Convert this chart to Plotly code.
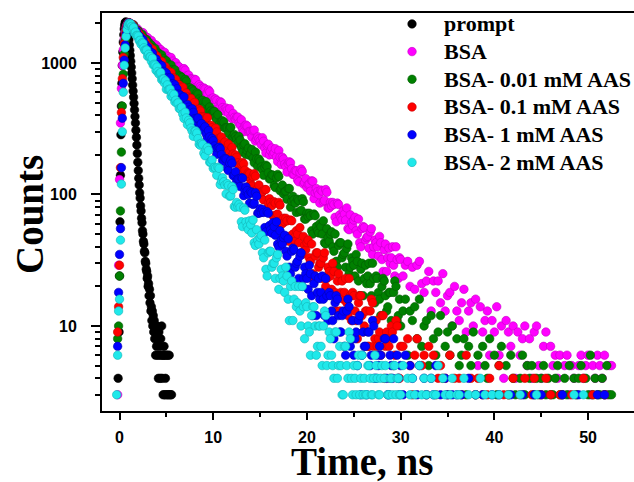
import numpy as np
import plotly.graph_objects as go

# Channel times of the decay histograms: 0.1 ns channels around the excitation
# pulse, 0.125 ns through the main decay and 0.25 ns for the long tail.
time_fine_ns = np.round(np.arange(-0.3, 6.0001, 0.1), 3)
time_mid_ns = np.round(np.arange(6.125, 30.0001, 0.125), 3)
time_tail_ns = np.round(np.arange(30.25, 52.5001, 0.25), 3)
time_ns = np.concatenate([time_fine_ns, time_mid_ns, time_tail_ns])

# The instrument response is recorded with 0.05 ns channels
prompt_time_ns = np.round(np.arange(-0.3, 6.0001, 0.05), 3)
prompt_counts = [
    1, 1, 2, 4, 2, 9, 24, 62, 140, 285,
    470, 700, 955, 1210, 1440, 1640, 1810, 1930, 2010, 2050,
    2040, 2000, 1950, 1860, 1750, 1630, 1500, 1375, 1250, 1140,
    1030, 930, 840, 760, 680, 612, 550, 492, 440, 392,
    350, 308, 272, 238, 205, 176, 152, 133, 118, 103,
    94, 82, 75, 66, 61, 53, 50, 44, 42, 37,
    36, 31, 30, 27, 26, 23, 24, 20, 21, 17,
    19, 15, 17, 13, 14, 11, 13, 10, 12, 9,
    11, 8, 10, 6, 9, 7, 10, 6, 8, 4,
    9, 6, 7, 4, 8, 6, 10, 4, 6, 3,
    6, 7, 3, 6, 4, 3, 6, 2, 3, 6,
    3, 2, 6, 3, 2, 3, 1, 3, 2, 1,
    2, 1, 2, 1, 1, 1, 1,
]

bsa_counts = [
    # 0.1 ns channels
    1, 3, 29, 130, 350, 640, 960, 1260, 1520, 1720, 1860, 1950, 2000, 2030, 2010,
    1984, 1889, 1948, 1950, 1840, 1791, 1807, 1823, 1684, 1747, 1692, 1712, 1623, 1700, 1563,
    1587, 1580, 1478, 1558, 1478, 1437, 1460, 1484, 1359, 1383, 1388, 1324, 1370, 1238, 1316,
    1244, 1254, 1263, 1166, 1210, 1172, 1206, 1111, 1134, 1058, 1118, 1079, 1047, 1099, 990,
    1033, 977, 996, 1004,
    # 0.125 ns channels
    930, 944, 933, 865, 846, 892, 906, 881, 796, 796, 809, 753, 758, 753, 709, 752, 744, 654, 670, 684,
    662, 642, 600, 646, 634, 584, 583, 622, 604, 534, 529, 543, 526, 532, 518, 469, 453, 508, 499, 458,
    442, 430, 454, 439, 415, 449, 386, 379, 413, 386, 373, 386, 388, 349, 337, 370, 311, 300, 334, 337,
    331, 299, 302, 301, 274, 305, 309, 255, 264, 275, 265, 256, 239, 270, 254, 225, 207, 236, 241, 200,
    215, 226, 201, 208, 223, 193, 178, 216, 192, 169, 192, 186, 170, 163, 148, 171, 177, 174, 157, 142,
    142, 152, 151, 129, 125, 147, 156, 150, 120, 123, 132, 113, 119, 120, 106, 127, 126, 93, 103, 111,
    105, 100, 86, 108, 106, 88, 90, 109, 104, 79, 79, 87, 82, 87, 84, 67, 62, 86, 84, 70,
    67, 64, 75, 71, 64, 79, 55, 54, 70, 61, 58, 64, 67, 53, 50, 65, 43, 40, 55, 57,
    56, 45, 47, 48, 39, 52, 55, 35, 40, 45, 43, 40, 34, 48, 43, 32, 26, 38, 42, 26,
    33, 39, 30, 33, 40, 29, 24, 40, 32, 23, 33, 32,
    # 0.25 ns channels
    24, 29, 31, 20, 28, 19, 29, 31, 21, 18, 22, 26, 13, 22, 18, 22, 15, 25, 13, 17,
    18, 10, 20, 13, 11, 15, 19, 9, 13, 15, 10, 16, 5, 14, 9, 11, 13, 6, 11, 9,
    14, 6, 10, 4, 11, 9, 7, 10, 4, 9, 6, 8, 10, 5, 8, 4, 9, 10, 5, 4,
    7, 9, 2, 7, 5, 6, 4, 6, 3, 5, 6, 3, 5, 4, 3, 5, 6, 4, 5, 6,
    3, 5, 4, 6, 5, 4, 6, 3, 5, 5,
]

aas_001_counts = [
    2, 8, 10, 24, 75, 210, 470, 820, 1170, 1480, 1720, 1880, 1970, 2020, 2000,
    1956, 1970, 1867, 1941, 1788, 1807, 1792, 1678, 1756, 1664, 1614, 1631, 1653, 1518, 1534,
    1534, 1461, 1504, 1361, 1438, 1357, 1362, 1368, 1258, 1303, 1259, 1289, 1188, 1207, 1125,
    1182, 1138, 1102, 1151, 1037, 1077, 1016, 1033, 1038, 954, 977, 914, 958, 963, 890,
    857, 873, 887, 794,
    824, 797, 746, 793, 776, 716, 711, 751, 727, 647, 637, 649, 627, 631, 612, 555, 535, 592, 579, 532,
    513, 498, 521, 503, 474, 507, 438, 429, 463, 432, 416, 427, 428, 386, 371, 404, 341, 328, 362, 363,
    355, 320, 322, 321, 291, 320, 324, 268, 276, 286, 275, 264, 246, 276, 259, 229, 210, 238, 243, 201,
    215, 225, 199, 205, 220, 189, 174, 210, 187, 163, 186, 179, 162, 155, 140, 161, 167, 163, 146, 131,
    132, 141, 140, 117, 113, 134, 142, 137, 107, 111, 118, 101, 105, 106, 92, 111, 111, 80, 89, 97,
    91, 86, 73, 92, 90, 74, 76, 93, 88, 65, 65, 72, 68, 72, 69, 53, 50, 71, 69, 57,
    53, 51, 60, 57, 50, 63, 43, 42, 55, 47, 44, 50, 52, 40, 37, 50, 31, 28, 41, 43,
    43, 33, 35, 36, 28, 39, 42, 25, 28, 33, 31, 29, 24, 35, 31, 22, 17, 27, 30, 17,
    23, 29, 21, 24, 30, 21, 17, 30, 23, 15, 24, 23, 18, 16, 12, 20, 23, 22, 17, 13,
    14, 18, 18, 11, 10, 18, 22, 20, 11, 12, 16, 10,
    13, 16, 6, 13, 11, 14, 8, 16, 7, 10, 11, 5, 12, 8, 6, 9, 12, 4, 7, 9,
    6, 10, 2, 8, 5, 6, 8, 3, 7, 5, 9, 3, 6, 2, 7, 5, 4, 8, 2, 6,
    3, 5, 7, 2, 5, 3, 6, 4, 3, 2, 4, 6, 3, 5, 4, 5, 3, 4, 3, 4,
    5, 3, 4, 3, 3, 4, 5, 3, 3, 4, 3, 5, 2, 4, 3, 4, 5, 2, 4, 3,
    6, 3, 4, 3, 3, 4, 3, 5, 3, 3,
]

aas_01_counts = [
    1, 9, 14, 29, 160, 420, 760, 1100, 1400, 1630, 1800, 1910, 1975, 2015, 2000,
    1924, 1936, 1947, 1792, 1801, 1793, 1706, 1744, 1583, 1658, 1564, 1563, 1562, 1442, 1480,
    1426, 1453, 1339, 1354, 1261, 1317, 1265, 1221, 1269, 1144, 1180, 1112, 1126, 1126, 1034,
    1055, 985, 1027, 1028, 949, 913, 925, 936, 836, 881, 842, 856, 793, 847, 752,
    770, 764, 694, 749,
    682, 659, 681, 656, 619, 653, 570, 554, 590, 552, 531, 540, 537, 486, 466, 500, 428, 410, 444, 444,
    432, 391, 391, 387, 352, 382, 384, 321, 327, 336, 322, 308, 286, 319, 299, 265, 242, 270, 274, 228,
    242, 251, 224, 229, 242, 209, 192, 228, 203, 177, 200, 192, 174, 166, 149, 171, 175, 171, 153, 137,
    137, 146, 144, 121, 116, 137, 144, 138, 108, 111, 118, 100, 104, 105, 91, 109, 109, 78, 86, 93,
    87, 82, 69, 88, 86, 70, 71, 87, 83, 60, 60, 66, 62, 66, 63, 48, 44, 64, 63, 50,
    47, 44, 53, 50, 43, 56, 36, 35, 48, 41, 38, 43, 45, 33, 31, 42, 25, 22, 34, 36,
    36, 28, 30, 30, 23, 33, 36, 20, 23, 28, 26, 24, 19, 30, 26, 18, 13, 22, 25, 13,
    18, 22, 16, 18, 23, 15, 12, 23, 17, 11, 18, 17, 13, 11, 8, 15, 17, 17, 12, 9,
    10, 13, 13, 7, 7, 13, 16, 15, 7, 8, 11, 7, 8, 9, 6, 12, 12, 4, 7, 9,
    8, 7, 4, 10, 9, 5, 6, 11, 10, 4, 4, 7,
    7, 2, 8, 5, 3, 6, 8, 2, 5, 6, 3, 7, 1, 6, 3, 4, 5, 1, 4, 3,
    6, 2, 4, 1, 4, 3, 2, 6, 1, 4, 2, 3, 4, 1, 3, 1, 3, 4, 2, 1,
    2, 5, 1, 3, 2, 3, 1, 4, 1, 2, 3, 1, 4, 2, 1, 3, 4, 1, 2, 3,
    1, 4, 1, 3, 2, 1, 2, 3, 1, 2, 2, 1, 3, 2, 1, 2, 2, 4, 1, 2,
    2, 3, 1, 2, 2, 1, 3, 2, 1, 2,
]

aas_1_counts = [
    2, 7, 18, 35, 55, 160, 380, 700, 1050, 1370, 1640, 1830, 1950, 2010, 1995,
    1927, 1917, 1907, 1766, 1799, 1733, 1755, 1620, 1631, 1521, 1576, 1513, 1459, 1505, 1361,
    1395, 1315, 1324, 1319, 1215, 1231, 1152, 1192, 1189, 1099, 1056, 1064, 1071, 961, 1005,
    960, 971, 900, 954, 849, 865, 856, 779, 834, 774, 741, 757, 771, 682, 695,
    697, 650, 681, 588,
    636, 581, 577, 567, 520, 553, 551, 471, 474, 482, 461, 442, 412, 448, 421, 377, 349, 379, 381, 323,
    337, 346, 310, 314, 327, 288, 266, 306, 275, 243, 267, 256, 234, 222, 202, 226, 229, 223, 201, 181,
    179, 188, 186, 158, 152, 174, 182, 173, 139, 141, 149, 127, 131, 131, 115, 134, 133, 98, 107, 114,
    107, 100, 86, 105, 103, 84, 86, 103, 97, 72, 72, 78, 73, 77, 73, 56, 52, 74, 72, 58,
    54, 51, 61, 57, 49, 62, 42, 40, 53, 45, 42, 47, 49, 37, 34, 46, 28, 25, 37, 39,
    38, 28, 30, 31, 23, 34, 36, 20, 23, 28, 25, 23, 19, 29, 25, 17, 12, 21, 24, 12,
    18, 23, 16, 18, 24, 16, 12, 23, 17, 11, 18, 17, 13, 11, 8, 15, 17, 16, 12, 9,
    9, 12, 13, 7, 6, 13, 16, 14, 7, 8, 11, 6, 8, 9, 5, 11, 12, 3, 6, 9,
    7, 7, 3, 9, 9, 5, 6, 11, 10, 4, 4, 6, 5, 7, 6, 2, 1, 8, 8, 4,
    3, 3, 6, 5, 4, 8, 2, 2, 6, 4, 3, 5,
    3, 6, 1, 5, 4, 2, 3, 5, 2, 4, 3, 2, 4, 3, 5, 2, 3, 2, 4, 3,
    2, 3, 1, 3, 2, 3, 1, 2, 4, 2, 1, 3, 2, 2, 3, 1, 2, 2, 3, 1,
    2, 3, 2, 1, 2, 1, 3, 2, 2, 1, 2, 3, 1, 2, 2, 1, 3, 2, 1, 3,
    2, 1, 2, 2, 1, 2, 2, 1, 3, 2, 1, 2, 2, 1, 2, 3, 1, 2, 1, 2,
    2, 1, 2, 3, 1, 2, 3, 2, 1, 2,
]

aas_2_counts = [
    3, 6, 13, 16, 45, 120, 300, 600, 960, 1300, 1590, 1800, 1940, 2000, 1990,
    1980, 1896, 1823, 1862, 1691, 1718, 1619, 1618, 1601, 1476, 1486, 1388, 1424, 1411, 1304,
    1251, 1252, 1251, 1125, 1165, 1109, 1116, 1033, 1085, 967, 978, 963, 877, 930, 861,
    823, 834, 845, 747, 757, 755, 703, 731, 631, 682, 626, 629, 632, 558, 586,
    556, 576, 507, 521,
    492, 497, 450, 449, 461, 409, 379, 422, 382, 340, 366, 350, 320, 304, 277, 302, 304, 293, 266, 241,
    237, 245, 240, 206, 197, 221, 228, 216, 176, 176, 183, 158, 161, 159, 140, 161, 158, 119, 127, 134,
    125, 118, 101, 121, 117, 97, 98, 115, 109, 81, 80, 87, 81, 84, 80, 62, 57, 79, 76, 62,
    57, 54, 63, 59, 51, 64, 43, 41, 54, 45, 42, 47, 49, 36, 33, 45, 27, 24, 36, 37,
    37, 28, 30, 30, 23, 33, 35, 19, 23, 27, 24, 22, 18, 28, 24, 16, 11, 20, 22, 11,
    16, 20, 14, 15, 20, 13, 10, 20, 14, 8, 15, 14, 10, 9, 6, 12, 14, 14, 10, 6,
    7, 10, 10, 7, 5, 10, 13, 12, 5, 6, 9, 8, 6, 5, 4, 9, 9, 4, 5, 7,
    5, 3, 3, 7, 7, 5, 4, 9, 8, 4, 3, 5, 4, 3, 5, 6, 3, 4, 6, 3,
    4, 3, 3, 5, 5, 4, 3, 3, 4, 6, 5, 4, 3, 3, 4, 5, 2, 4, 5, 2,
    3, 3, 4, 4, 3, 5, 5, 3, 4, 4, 3, 3,
    5, 2, 4, 3, 4, 3, 2, 5, 3, 4, 3, 2, 4, 3, 3, 5, 2, 4, 3, 2,
    3, 4, 2, 3, 3, 2, 4, 2, 3, 2, 1, 3, 2, 4, 2, 3, 1, 2, 3, 2,
    2, 3, 1, 2, 2, 3, 1, 2, 2, 1, 3, 2, 1, 2, 2, 1, 2, 3, 1, 2,
    1, 2, 2, 1, 2, 1, 2, 2, 1, 2, 1, 2, 2, 3, 1, 2, 2, 3, 2, 2,
    1, 2, 1, 2, 1, 2, 2, 1, 2, 1,
]

series_names = ["prompt", "BSA", "BSA- 0.01 mM AAS", "BSA- 0.1 mM AAS",
                "BSA- 1 mM AAS", "BSA- 2 mM AAS"]
series_times = [prompt_time_ns, time_ns, time_ns, time_ns, time_ns, time_ns]
series_counts = [prompt_counts, bsa_counts, aas_001_counts, aas_01_counts,
                 aas_1_counts, aas_2_counts]
series_colors = ["#000000", "#ff00ff", "#008000", "#ff0000", "#0000ff", "#1fe8ea"]
series_edges = ["#000000", "#c400c4", "#005c00", "#c80000", "#0000b4", "#14b4b6"]

y_major = [10, 100, 1000]
y_minor = [3, 4, 5, 6, 7, 8, 9, 20, 30, 40, 50, 60, 70, 80, 90,
           200, 300, 400, 500, 600, 700, 800, 900, 2000]

for t, counts in zip(series_times, series_counts):
    assert len(t) == len(counts), (len(t), len(counts))

fig = go.Figure()
for name, t, counts, color, edge in zip(series_names, series_times,
                                        series_counts, series_colors,
                                        series_edges):
    fig.add_trace(go.Scatter(
        x=t, y=counts, mode="markers",
        name='<span style="font-size:22px">' + name + "</span>",
        marker=dict(size=8.5, color=color, line=dict(width=0.6, color=edge)),
    ))

tick_font = dict(family="Liberation Sans, Arial, sans-serif", size=16,
                 color="black", weight="bold")
title_font = dict(family="Liberation Serif, Times New Roman, serif", size=39,
                  color="black", weight="bold")

fig.update_layout(
    width=634, height=482,
    # the frame runs to the right edge of the figure, so the legend must not
    # widen the margins
    margin=dict(l=102, r=0, t=13, b=71, autoexpand=False),
    paper_bgcolor="white", plot_bgcolor="white",
    legend=dict(
        x=0.5226, y=1.02, xanchor="left", yanchor="top",
        bgcolor="rgba(0,0,0,0)", itemsizing="trace", itemwidth=54,
        font=dict(family="Liberation Serif, Times New Roman, serif", size=19,
                  color="black", weight="bold"),
    ),
    xaxis=dict(
        range=[-1.87, 54.9], showgrid=False, zeroline=False,
        showline=True, linecolor="black", linewidth=2, mirror=True,
        ticks="outside", ticklen=7, tickwidth=2, tickcolor="black",
        tick0=0, dtick=10, tickfont=tick_font, ticklabelstandoff=4,
        minor=dict(ticks="outside", ticklen=4, tickwidth=2,
                   tickcolor="black", tick0=0, dtick=5, showgrid=False),
    ),
    yaxis=dict(
        type="log", range=[0.3536, 3.380], showgrid=False, zeroline=False,
        showline=True, linecolor="black", linewidth=2,
        ticks="outside", ticklen=9, tickwidth=2, tickcolor="black",
        tickmode="array", tickvals=y_major,
        ticktext=[str(v) for v in y_major], tickfont=tick_font,
        ticklabelstandoff=11,
        minor=dict(ticks="outside", ticklen=5, tickwidth=1.5,
                   tickcolor="black", tickmode="array", tickvals=y_minor,
                   showgrid=False),
    ),
    annotations=[
        dict(text="Time, ns", xref="paper", yref="paper", x=0.4878, y=-0.128,
             xanchor="center", yanchor="middle", showarrow=False,
             font=title_font),
        dict(text="Counts", xref="paper", yref="paper", x=-0.1353, y=0.4925,
             xanchor="center", yanchor="middle", textangle=-90,
             showarrow=False, font=title_font),
    ],
)

fig.write_html("out.html")
